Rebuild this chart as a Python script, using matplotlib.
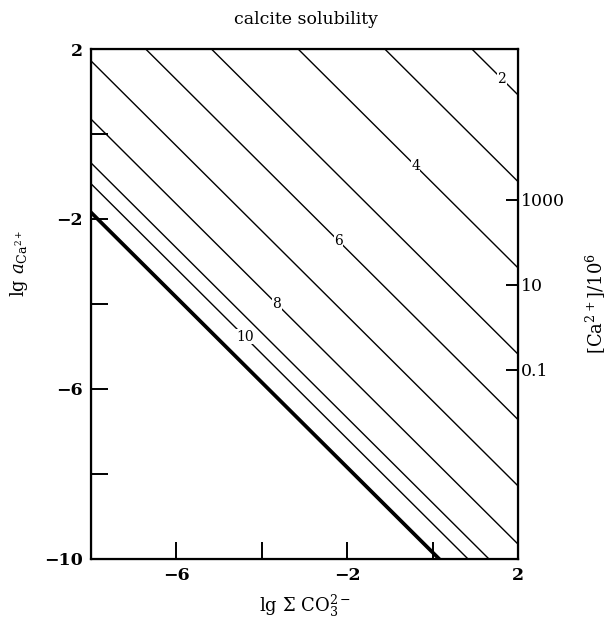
import numpy as np
import matplotlib
matplotlib.use('Agg')
import matplotlib.pyplot as plt

plt.rcParams['font.family'] = ['DejaVu Serif']
plt.rcParams['mathtext.fontset'] = 'dejavuserif'

# pH of each solubility line and its intercept  lg a(Ca) + lg sum(CO3) = c
ph_values = [2, 3, 4, 5, 6, 7, 8, 9, 10, 11, 12]
intercepts = [2.92, 0.88, -1.15, -3.18, -4.72, -6.28, -7.65, -8.68, -9.17, -9.82, -9.87]
# labelled lines and where along lg sum(CO3) the label sits
label_ph = [2, 4, 6, 8, 10]
label_x = [1.62, -0.4, -2.2, -3.65, -4.4]

# right axis: [Ca2+] in parts per million
ppm_ticks = [1000, 10, 0.1]
ppm_labels = ['1000', '10', '0.1']
ppm_offset = 4.55   # lg a = lg(ppm) - offset

fig = plt.figure(figsize=(6.12, 6.18), dpi=100)
ax = fig.add_axes([0.1487, 0.0955, 0.6977, 0.8252])

x = np.array([-8.0, 2.0])
for ph, c in zip(ph_values, intercepts):
    lw = 1.6 if ph >= 11 else 1.0
    ax.plot(x, c - x, color='black', lw=lw, solid_capstyle='butt')

for ph, lx in zip(label_ph, label_x):
    c = intercepts[ph_values.index(ph)]
    ax.text(lx, c - lx, str(ph), fontsize=10, ha='center', va='center',
            bbox=dict(facecolor='white', edgecolor='none', pad=0.3))

ax.set_xlim(-8, 2)
ax.set_ylim(-10, 2)

ax.set_xticks([-6, -4, -2, 0, 2])
ax.set_xticklabels(['\u22126', '', '\u22122', '', '2'], fontweight='bold', fontsize=12.5)
ax.set_yticks([-10, -8, -6, -4, -2, 0, 2])
ax.set_yticklabels(['\u221210', '', '\u22126', '', '\u22122', '', '2'], fontweight='bold', fontsize=12.5)
ax.tick_params(direction='in', length=12, width=1.4, pad=6)

for s in ax.spines.values():
    s.set_linewidth(1.6)

ax2 = ax.twinx()
ax2.set_ylim(-10, 2)
ax2.set_yticks([np.log10(v) - ppm_offset for v in ppm_ticks])
ax2.set_yticklabels(ppm_labels, fontsize=12.5)
ax2.tick_params(direction='in', length=9, width=1.4, pad=2)
ax2.set_ylabel(r'[Ca$^{2+}$]/10$^6$', fontsize=13)
ax2.yaxis.set_label_coords(1.155, 0.5)

ax.set_xlabel(r'lg $\Sigma$ CO$_3^{2-}$', fontsize=13)
ax.xaxis.set_label_coords(0.5, -0.066)
ax.set_ylabel(r'lg $a_{\mathrm{Ca}^{2+}}$', fontsize=13)
ax.yaxis.set_label_coords(-0.143, 0.58)

fig.text(0.5, 0.968, 'calcite solubility', ha='center', va='center', fontsize=12.5)

fig.savefig('out.png', dpi=100)
